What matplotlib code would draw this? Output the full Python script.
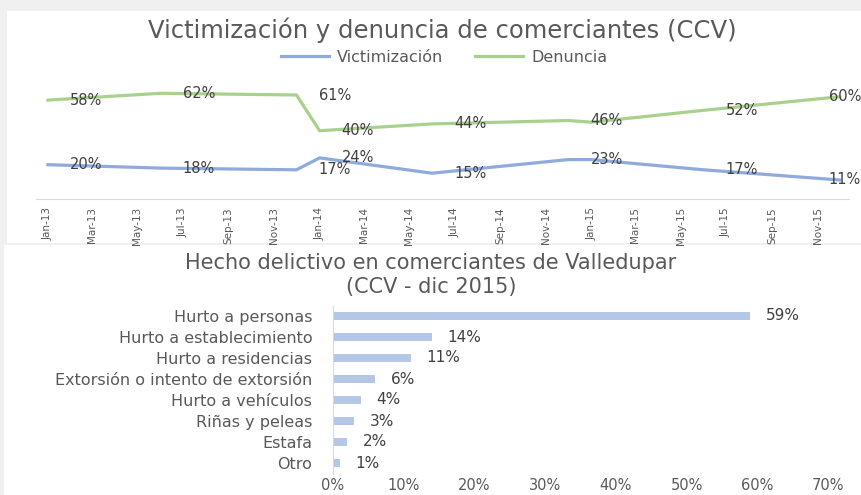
import matplotlib
matplotlib.use('Agg')
import matplotlib.pyplot as plt
import matplotlib.dates as mdates
from matplotlib.patches import Rectangle
import pandas as pd

# serie de la encuesta CCV
fechas = ['2013-01', '2013-06', '2013-12', '2014-01', '2014-06',
          '2014-12', '2015-01', '2015-06', '2015-12']
victimizacion = [20, 18, 17, 24, 15, 23, 23, 17, 11]
denuncia = [58, 62, 61, 40, 44, 46, 45, 52, 60]
con_etiqueta = [True, True, True, True, True, True, False, True, True]

# hecho delictivo dic 2015
hechos = ['Hurto a personas', 'Hurto a establecimiento', 'Hurto a residencias',
          'Extorsión o intento de extorsión', 'Hurto a vehículos',
          'Riñas y peleas', 'Estafa', 'Otro']
porcentajes = [59, 14, 11, 6, 4, 3, 2, 1]
eje_x_barras = [0, 10, 20, 30, 40, 50, 60, 70]

W, H = 862, 495
gris_texto = '#595959'
azul = '#8faadc'
verde = '#a9d18e'


def caja(x0, y0, x1, y1):
    # pixeles (origen arriba a la izquierda) -> coordenadas de figura
    return [x0 / W, 1 - y1 / H, (x1 - x0) / W, (y1 - y0) / H]


fig = plt.figure(figsize=(W / 100, H / 100), dpi=100)
fig.patch.set_facecolor('#f0f0f0')
for x0, y0, x1, y1 in [(7, 11, 862, 243), (4, 245, 862, 495)]:
    fig.add_artist(Rectangle((x0 / W, 1 - y1 / H), (x1 - x0) / W, (y1 - y0) / H,
                             transform=fig.transFigure, facecolor='white',
                             edgecolor='none', zorder=0))

# --- grafico de lineas ---
ax1 = fig.add_axes(caja(36, 79.7, 848.8, 198.7))
ax1.set_facecolor('none')
x = pd.to_datetime(fechas)
l1, = ax1.plot(x, victimizacion, color=azul, lw=2.3, label='Victimización')
l2, = ax1.plot(x, denuncia, color=verde, lw=2.3, label='Denuncia')
ax1.set_xlim(pd.Timestamp('2012-12-16'), pd.Timestamp('2015-12-13'))
ax1.set_ylim(0, 70)

for serie in [victimizacion, denuncia]:
    for i in range(len(x)):
        if not con_etiqueta[i]:
            continue
        dx = 16 if i < len(x) - 1 else -8
        ax1.annotate(f'{serie[i]}%', (x[i], serie[i]), xytext=(dx, 0),
                     textcoords='offset points', ha='left', va='center',
                     fontsize=10.5, color='#404040', annotation_clip=False)

for s in ['top', 'right', 'left']:
    ax1.spines[s].set_visible(False)
ax1.spines['bottom'].set_color('#d9d9d9')
ax1.set_yticks([])
ax1.xaxis.set_major_locator(mdates.MonthLocator(bymonth=[1, 3, 5, 7, 9, 11]))
ax1.xaxis.set_major_formatter(mdates.DateFormatter('%b-%y'))
ax1.tick_params(axis='x', length=0, pad=6, colors=gris_texto, labelsize=7.5)
for t in ax1.get_xticklabels():
    t.set_rotation(90)
    t.set_family(['Liberation Sans Narrow', 'DejaVu Sans Condensed', 'DejaVu Sans'])

fig.text(442 / W, 1 - 30 / H, 'Victimización y denuncia de comerciantes (CCV)',
         ha='center', va='center', fontsize=17.5, color=gris_texto)
leg = fig.legend(handles=[l1, l2], loc='center', bbox_to_anchor=(444 / W, 1 - 57 / H),
                 ncol=2, frameon=False, fontsize=11.5, handlelength=3.0,
                 columnspacing=2.0, handletextpad=0.5)
for t in leg.get_texts():
    t.set_color(gris_texto)

# --- grafico de barras ---
ax2 = fig.add_axes(caja(333, 305.5, 828, 473.5))
ax2.set_facecolor('none')
pos = range(len(hechos))
ax2.barh(pos, porcentajes, height=0.4, color='#b4c7e7')
ax2.set_ylim(len(hechos) - 0.5, -0.5)
ax2.set_xlim(0, 70)
ax2.set_yticks(pos, hechos)
ax2.set_xticks(eje_x_barras, [f'{v}%' for v in eje_x_barras])
for i, v in enumerate(porcentajes):
    ax2.annotate(f'{v}%', (v, i), xytext=(11, 0), textcoords='offset points',
                 ha='left', va='center', fontsize=11, color='#404040')
for s in ['top', 'right', 'bottom']:
    ax2.spines[s].set_visible(False)
ax2.spines['left'].set_color('#d9d9d9')
ax2.tick_params(axis='y', length=0, pad=15, colors=gris_texto, labelsize=11.5)
ax2.tick_params(axis='x', length=0, pad=3, colors=gris_texto, labelsize=10.5)

titulo = ['Hecho delictivo en comerciantes de Valledupar', '(CCV - dic 2015)']
for k, linea in enumerate(titulo):
    fig.text(431 / W, 1 - (263 + 24 * k) / H, linea, ha='center', va='center',
             fontsize=15, color=gris_texto)

fig.savefig('out.png', dpi=100, facecolor=fig.get_facecolor())
